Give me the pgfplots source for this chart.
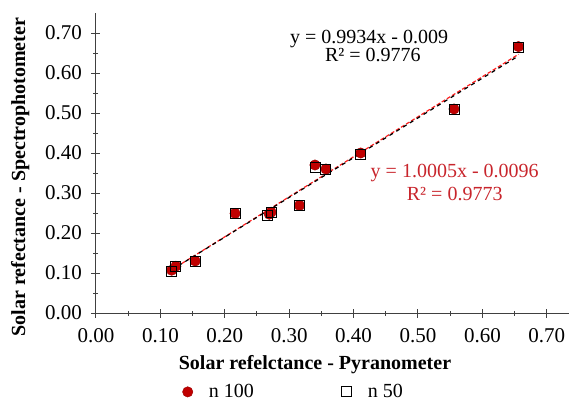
\documentclass[border=0pt]{standalone}
\usepackage{fontspec}
\setmainfont{Liberation Serif}
\usepackage{pgfplots}
\pgfplotsset{compat=1.18}
\definecolor{mkred}{HTML}{C00000}
\definecolor{txtred}{HTML}{C8252C}
\definecolor{axgray}{HTML}{404040}
\definecolor{lnred}{HTML}{FF1F1F}
\begin{document}
\begin{tikzpicture}
\path[use as bounding box] (-96pt,-88pt) rectangle (473pt,313pt);
\begin{axis}[at={(0pt,0pt)}, anchor=south west,
  scale only axis, width=473pt, height=300pt,
  xmin=0, xmax=0.7345, ymin=0, ymax=0.75,
  axis x line=bottom, axis y line=left,
  axis line style={-, axgray, line width=1pt},
  xtick={0,0.1,0.2,0.3,0.4,0.5,0.6,0.7},
  ytick={0,0.1,0.2,0.3,0.4,0.5,0.6,0.7},
  minor tick num=1,
  tick align=center, major tick length=9pt, minor tick length=5pt,
  tick style={axgray, line width=1pt},
  /pgf/number format/fixed, /pgf/number format/fixed zerofill,
  /pgf/number format/precision=2, /pgf/number format/assume math mode=true,
  tick label style={font=\fontsize{21}{24}\selectfont},
  xticklabel style={yshift=-7pt},
  yticklabel style={xshift=-6pt},
  xlabel={\bfseries Solar refelctance - Pyranometer},
  ylabel={\bfseries Solar refectance - Spectrophotometer},
  label style={font=\fontsize{20}{24}\selectfont},
  xlabel style={at={(axis description cs:0.463,-0.187)}, anchor=base},
  ylabel style={at={(axis description cs:-0.150,0.453)}, anchor=base},
  legend columns=2,
  legend style={at={(axis description cs:0.418,-0.263)}, anchor=center,
    draw=none, fill=none, font=\fontsize{20}{24}\selectfont,
    /tikz/every odd column/.append style={column sep=14pt},
    /tikz/every even column/.append style={column sep=86pt}},
  clip=false]
\addplot[only marks, mark=*, mark size=5.2pt, mark options={fill=mkred, draw=mkred!80!black}]
  coordinates {(0.1175,0.107) (0.124,0.117) (0.154,0.130) (0.216,0.249) (0.269,0.247) (0.272,0.252)
  (0.316,0.269) (0.340,0.370) (0.357,0.360) (0.411,0.400) (0.556,0.510) (0.656,0.666)};
\addlegendentry{n 100}
\addplot[only marks, mark=square, mark size=5pt, mark options={draw=black, line width=0.9pt, fill=none}]
  coordinates {(0.1175,0.105) (0.124,0.116) (0.154,0.128) (0.216,0.248) (0.267,0.243) (0.272,0.252)
  (0.316,0.269) (0.341,0.365) (0.357,0.359) (0.411,0.396) (0.556,0.508) (0.656,0.664)};
\addlegendentry{n 50}
% linear trend lines (end points of the fitted equations)
\addplot[lnred, line width=1.2pt, dash pattern=on 4pt off 2pt, forget plot]
  coordinates {(0.1175,0.1080) (0.656,0.6467)};
\addplot[black, line width=1.2pt, dash pattern=on 4pt off 4pt, forget plot]
  coordinates {(0.1175,0.1077) (0.656,0.6427)};
\node[anchor=base, font=\fontsize{20}{22}\selectfont] at (axis cs:0.424,0.673) {y = 0.9934x - 0.009};
\node[anchor=base, font=\fontsize{20}{22}\selectfont] at (axis cs:0.430,0.628) {R² = 0.9776};
\node[anchor=base, font=\fontsize{20}{22}\selectfont, txtred] at (axis cs:0.557,0.339) {y = 1.0005x - 0.0096};
\node[anchor=base, font=\fontsize{20}{22}\selectfont, txtred] at (axis cs:0.557,0.282) {R² = 0.9773};
\end{axis}
\end{tikzpicture}
\end{document}
